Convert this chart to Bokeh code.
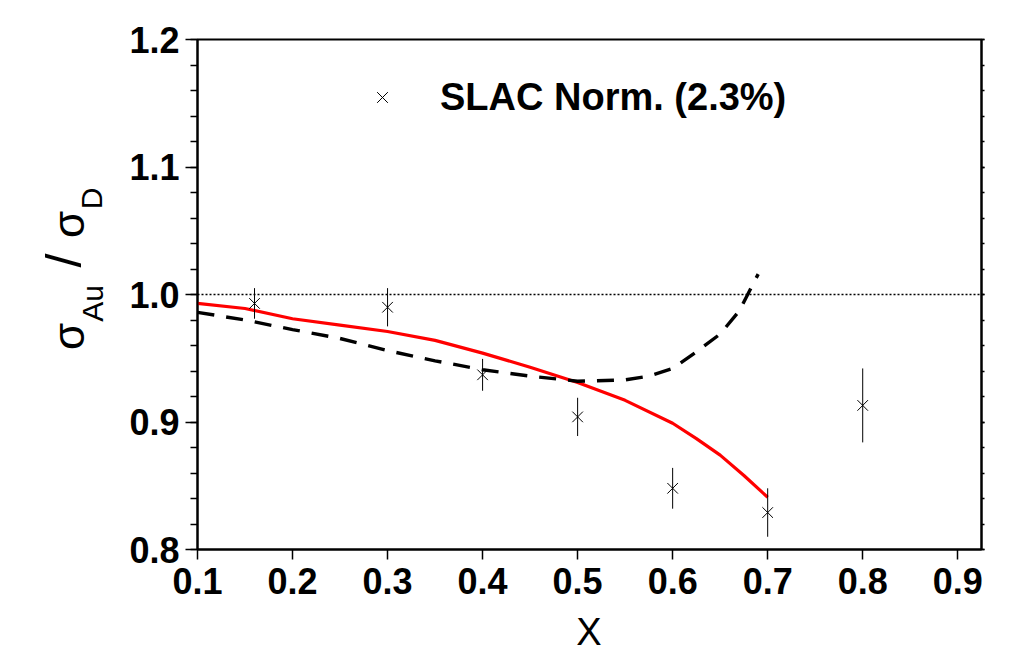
import math
from bokeh.plotting import figure
from bokeh.layouts import row, column
from bokeh.models import (Range1d, LinearAxis, Span, Legend, LegendItem, Div,
                          FixedTicker, PrintfTickFormatter, ColumnDataSource)
from bokeh.core.properties import value
from bokeh.embed import file_html
from bokeh.resources import INLINE

# ---------------- data ----------------
x_points = [0.16, 0.3, 0.4, 0.5, 0.6, 0.7, 0.8]
y_points = [0.993, 0.990, 0.937, 0.904, 0.848, 0.829, 0.913]
y_errors = [0.012, 0.015, 0.0125, 0.015, 0.016, 0.019, 0.029]

red_x = [0.1, 0.15, 0.2, 0.25, 0.3, 0.35, 0.4, 0.45, 0.5, 0.55, 0.6, 0.625, 0.65, 0.675, 0.7]
red_y = [0.993, 0.989, 0.981, 0.976, 0.971, 0.964, 0.954, 0.943, 0.931, 0.917, 0.899, 0.887, 0.874, 0.858, 0.841]

dash_x = [0.1, 0.15, 0.2, 0.25, 0.3, 0.35, 0.4, 0.45, 0.5, 0.55, 0.575, 0.6, 0.625, 0.65, 0.67, 0.69]
dash_y = [0.986, 0.980, 0.9725, 0.9655, 0.956, 0.948, 0.941, 0.936, 0.932, 0.933, 0.936, 0.942, 0.955, 0.969, 0.987, 1.016]

reference_level = 1.0
x_ticks = [0.1, 0.2, 0.3, 0.4, 0.5, 0.6, 0.7, 0.8, 0.9]
y_ticks = [0.8, 0.9, 1.0, 1.1, 1.2]
legend_label = "SLAC Norm. (2.3%)"
x_title = "X"
y_title_parts = ["\u03c3", "Au", "/", "\u03c3", "D"]

FONT = "Liberation Sans, Arial, Helvetica, sans-serif"

W, H = 1022, 647
LEFT_W = 110          # strip holding the y title
BOTTOM_H = 30         # strip holding the x title
MAIN_H = H - BOTTOM_H
FRAME_TOP, FRAME_BOTTOM, FRAME_LEFT, FRAME_RIGHT = 39, 549, 197, 981

# ---------------- main plot ----------------
p = figure(width=W - LEFT_W, height=MAIN_H, x_range=Range1d(0.1, 0.925), y_range=Range1d(0.8, 1.2),
           toolbar_location=None, output_backend="svg", title=None,
           min_border_left=FRAME_LEFT - LEFT_W, min_border_right=W - FRAME_RIGHT,
           min_border_top=FRAME_TOP, min_border_bottom=MAIN_H - FRAME_BOTTOM)
p.grid.visible = False
p.outline_line_color = "black"
p.outline_line_width = 2
p.background_fill_color = "white"
p.border_fill_color = "white"

xa = p.xaxis[0]
xa.ticker = FixedTicker(ticks=x_ticks)
xa.formatter = PrintfTickFormatter(format="%.1f")
xa.major_label_text_font = FONT
xa.major_label_text_font_style = "bold"
xa.major_label_text_font_size = "36px"
xa.major_label_text_color = "black"
xa.major_tick_out = 10
xa.major_tick_in = 0
xa.minor_tick_out = 0
xa.minor_tick_in = 0
xa.major_label_standoff = 8
xa.axis_line_width = 2
xa.major_tick_line_width = 1.5

minor_y = [round(0.8 + 0.02 * i, 2) for i in range(21)]
ya = p.yaxis[0]
ya.ticker = FixedTicker(ticks=y_ticks, minor_ticks=minor_y)
ya.formatter = PrintfTickFormatter(format="%.1f")
ya.major_label_text_font = FONT
ya.major_label_text_font_style = "bold"
ya.major_label_text_font_size = "36px"
ya.major_label_text_color = "black"
ya.major_tick_out = 12
ya.major_tick_in = 0
ya.minor_tick_out = 7
ya.minor_tick_in = 0
ya.major_label_standoff = 6
ya.axis_line_width = 2
ya.major_tick_line_width = 1.5
ya.minor_tick_line_width = 1.5

ra = LinearAxis(ticker=FixedTicker(ticks=y_ticks, minor_ticks=minor_y))
ra.major_label_text_color = None
ra.major_tick_out = 3
ra.major_tick_in = 0
ra.minor_tick_out = 3
ra.minor_tick_in = 0
ra.axis_line_width = 2
ra.major_tick_line_width = 1.5
ra.minor_tick_line_width = 1.5
p.add_layout(ra, "right")

p.add_layout(Span(location=reference_level, dimension="width", line_color="black",
                  line_width=1.5, line_dash="2 2"))

p.line(red_x, red_y, line_color="#ff0000", line_width=3.2)
p.line(dash_x, dash_y, line_color="black", line_width=3.4, line_dash="17 12")

src = ColumnDataSource(dict(x=x_points, y=y_points,
                            lo=[y - e for y, e in zip(y_points, y_errors)],
                            hi=[y + e for y, e in zip(y_points, y_errors)]))
p.segment(x0="x", y0="lo", x1="x", y1="hi", source=src, line_color="black", line_width=1)
pts = p.scatter("x", "y", source=src, marker="x", size=15, line_color="black", line_width=1)

legend = Legend(items=[LegendItem(label=legend_label, renderers=[pts])],
                location=(166, 430), glyph_width=38, glyph_height=44, label_height=44,
                label_standoff=39, padding=0, margin=0, spacing=0,
                border_line_color=None, background_fill_alpha=0,
                label_text_font=FONT, label_text_font_style="bold",
                label_text_font_size="38px", label_text_color="black")
p.add_layout(legend, "center")

# ---------------- y title strip (its frame is aligned with the main frame) ----------------
yl = figure(width=LEFT_W, height=MAIN_H, x_range=Range1d(0, LEFT_W),
            y_range=Range1d(MAIN_H - FRAME_BOTTOM, MAIN_H - FRAME_TOP),
            toolbar_location=None, output_backend="svg", title=None,
            x_axis_location=None, y_axis_location=None, min_border=0)
yl.grid.visible = False
yl.outline_line_color = None
yl.background_fill_color = "white"
yl.border_fill_color = "white"
# positions in page pixels (x from left, y from top)
yt_px_x = [68, 92, 63, 68, 91]
yt_px_y = [336, 303, 260, 224, 198]
yt_size = ["44px", "30px", "50px", "44px", "30px"]
ysrc = ColumnDataSource(dict(x=yt_px_x, y=[MAIN_H - v for v in yt_px_y], t=y_title_parts, s=yt_size))
yl.text(x="x", y="y", text="t", source=ysrc, angle=math.pi / 2, text_align="center",
        text_baseline="middle", text_font=value(FONT), text_font_size="s", text_color="black")

# ---------------- x title ----------------
pad_left = 2 * ((FRAME_LEFT + FRAME_RIGHT) / 2 - W / 2)
xl = Div(text=(f'<div style="width:{W}px;height:{BOTTOM_H}px;overflow:hidden;box-sizing:border-box;'
               f'padding-left:{pad_left}px;text-align:center;font-family:{FONT};font-size:38px;'
               f'line-height:31.7px;color:black;">{x_title}</div>'),
         width=W, height=BOTTOM_H, margin=0)

layout = column(row(yl, p), xl)
open("out.html", "w").write(file_html(layout, INLINE))
